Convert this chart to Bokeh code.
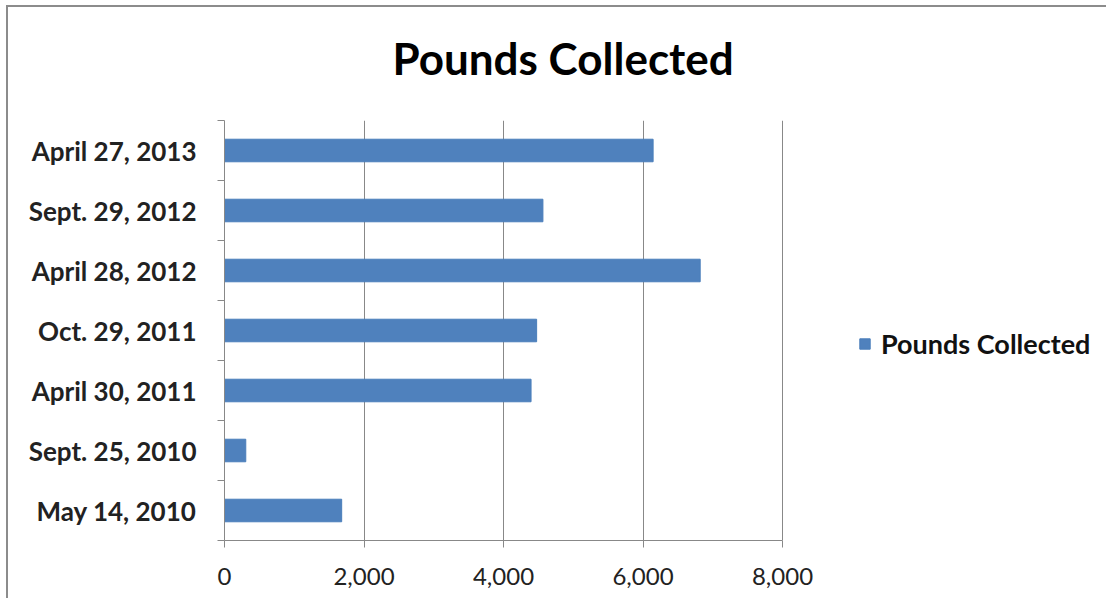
from bokeh.plotting import figure
from bokeh.models import (ColumnDataSource, FixedTicker, NumeralTickFormatter,
                          Legend, LegendItem, Title, Range1d)
from bokeh.embed import file_html
from bokeh.resources import INLINE

# ---- data ----
dates = ["May 14, 2010", "Sept. 25, 2010", "April 30, 2011", "Oct. 29, 2011",
         "April 28, 2012", "Sept. 29, 2012", "April 27, 2013"]
pounds = [1680, 305, 4395, 4475, 6820, 4565, 6145]
x_ticks = [0, 2000, 4000, 6000, 8000]
title_text = "Pounds Collected"
series_name = "Pounds Collected"

centers = [i + 0.5 for i in range(len(dates))]
bounds = [float(i) for i in range(len(dates) + 1)]
src = ColumnDataSource(dict(y=centers, right=pounds, date=dates))

FONT = "Lato"
BAR = "#4F81BD"
GRID = "#888888"

# layout (pixels)
W, H = 1100, 593
LEFT, TOP, BOTTOM = 216, 111, 60
AXIS_PX = 558                      # pixel length of the 0..8000 axis
frame_w = W - LEFT
x_end = x_ticks[-1] * frame_w / AXIS_PX

p = figure(width=W, height=H, output_backend="svg", toolbar_location=None,
           x_range=Range1d(0, x_end), y_range=Range1d(0, len(dates)),
           min_border_left=LEFT, min_border_right=0, min_border_top=TOP,
           min_border_bottom=BOTTOM)
p.styles = {"box-shadow": "-2px -2px 0px 0px #8c8c8c",
            "margin-top": "7px", "margin-left": "8px"}
p.outline_line_color = None
p.background_fill_color = "white"
p.border_fill_color = "white"

r = p.hbar(y="y", left=0, right="right", height=0.376, source=src,
           fill_color=BAR, line_color="#4A7EBB", line_width=1)

# x axis (only spans 0..8000)
xa = p.xaxis[0]
xa.bounds = (x_ticks[0], x_ticks[-1])
xa.ticker = FixedTicker(ticks=x_ticks)
xa.formatter = NumeralTickFormatter(format="0,0")
xa.axis_line_color = GRID
xa.major_tick_line_color = GRID
xa.major_tick_out = 7
xa.major_tick_in = 0
xa.minor_tick_line_color = None
xa.major_label_text_font = FONT
xa.major_label_text_font_size = "24px"
xa.major_label_text_color = "#222222"
xa.major_label_standoff = 20

# y axis: labels at centers, ticks at category boundaries
ya = p.yaxis[0]
ya.ticker = FixedTicker(ticks=centers, minor_ticks=bounds)
ya.major_label_overrides = {c: d for c, d in zip(centers, dates)}
ya.axis_line_color = GRID
ya.major_tick_line_color = None
ya.major_tick_out = 0
ya.major_tick_in = 0
ya.minor_tick_line_color = GRID
ya.minor_tick_out = 7
ya.minor_tick_in = 0
ya.major_label_text_font = FONT
ya.major_label_text_font_style = "bold"
ya.major_label_text_font_size = "26px"
ya.major_label_text_color = "#222222"
ya.major_label_standoff = 21

p.xgrid.ticker = FixedTicker(ticks=x_ticks[1:])
p.xgrid.bounds = (x_ticks[0], x_ticks[-1])
p.xgrid.grid_line_color = GRID
p.xgrid.grid_line_width = 1
p.ygrid.grid_line_color = None

# spacer just above the frame, then the title above it
spacer = Title(text=" ", standoff=8, text_font_size="1px")
p.add_layout(spacer, "above")
t = Title(text=title_text, align="left", offset=168, standoff=48,
          vertical_align="top",
          text_font=FONT, text_font_style="bold", text_font_size="44px",
          text_color="black")
p.add_layout(t, "above")

# legend
leg = Legend(items=[LegendItem(label=series_name, renderers=[r])],
             location=(634, 180), border_line_color=None,
             background_fill_alpha=0, padding=0, margin=0,
             glyph_width=13, glyph_height=13, label_height=20,
             label_text_font=FONT, label_text_font_style="bold",
             label_text_font_size="27px", label_standoff=10,
             label_text_color="#111111")
p.add_layout(leg, "center")

open("out.html", "w").write(file_html(p, INLINE))
